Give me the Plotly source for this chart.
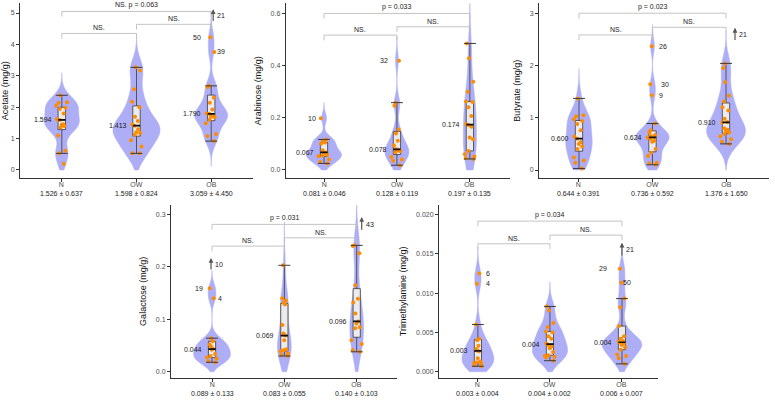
import numpy as np
import plotly.graph_objects as go

# ---------------- data (mg/g), values ----------------
groups = ["N", "OW", "OB"]

acetate_N = [2.38, 2.16, 2.14, 2.05, 1.98, 1.94, 1.80, 1.62, 1.594, 1.46, 1.44, 1.40, 1.35, 1.10, 0.61, 0.53, 0.20]
acetate_OW = [3.27, 3.17, 2.57, 2.17, 2.00, 1.70, 1.56, 1.45, 1.413, 1.30, 1.20, 1.18, 1.12, 0.95, 0.75, 0.53, 0.53]
acetate_OB = [4.23, 3.76, 2.68, 2.64, 2.30, 2.14, 1.93, 1.80, 1.79, 1.75, 1.70, 1.68, 1.60, 1.49, 1.15, 1.08, 0.92]
acetate_stats = ["1.526 ± 0.637", "1.598 ± 0.824", "3.059 ± 4.450"]
acetate_medlab = ["1.594", "1.413", "1.790"]
acetate_sig = ["NS.", "NS.", "NS. p = 0.063"]

arabinose_N = [0.198, 0.117, 0.112, 0.105, 0.100, 0.075, 0.067, 0.067, 0.058, 0.055, 0.052, 0.040, 0.030, 0.025]
arabinose_OW = [0.419, 0.258, 0.246, 0.155, 0.140, 0.112, 0.095, 0.080, 0.077, 0.075, 0.072, 0.068, 0.050, 0.040, 0.035, 0.018]
arabinose_OB = [0.485, 0.428, 0.338, 0.300, 0.262, 0.260, 0.240, 0.207, 0.176, 0.172, 0.166, 0.124, 0.118, 0.073, 0.060, 0.051, 0.045, 0.042]
arabinose_stats = ["0.081 ± 0.046", "0.128 ± 0.119", "0.197 ± 0.135"]
arabinose_medlab = ["0.067", "0.078", "0.174"]
arabinose_sig = ["NS.", "NS.", "p = 0.033"]

butyrate_N = [1.37, 1.05, 1.03, 0.97, 0.94, 0.88, 0.76, 0.64, 0.60, 0.53, 0.50, 0.45, 0.40, 0.24, 0.18, 0.14, 0.03]
butyrate_OW = [2.37, 1.64, 1.43, 0.89, 0.76, 0.72, 0.67, 0.65, 0.63, 0.624, 0.60, 0.56, 0.54, 0.40, 0.33, 0.27, 0.14, 0.13, 0.10]
butyrate_OB = [2.04, 1.95, 1.68, 1.42, 1.31, 1.20, 1.14, 0.98, 0.92, 0.91, 0.80, 0.77, 0.74, 0.72, 0.69, 0.64, 0.59, 0.54, 0.50]
butyrate_stats = ["0.644 ± 0.391", "0.736 ± 0.592", "1.376 ± 1.650"]
butyrate_medlab = ["0.600", "0.624", "0.910"]
butyrate_sig = ["NS.", "NS.", "p = 0.023"]

galactose_N = [0.159, 0.140, 0.064, 0.058, 0.052, 0.048, 0.044, 0.042, 0.034, 0.030, 0.027, 0.025, 0.020, 0.018]
galactose_OW = [0.203, 0.140, 0.136, 0.131, 0.128, 0.089, 0.073, 0.069, 0.060, 0.043, 0.041, 0.039, 0.035, 0.032, 0.030]
galactose_OB = [0.241, 0.240, 0.226, 0.165, 0.139, 0.132, 0.111, 0.096, 0.092, 0.085, 0.083, 0.060, 0.053, 0.041, 0.038]
galactose_stats = ["0.089 ± 0.133", "0.083 ± 0.055", "0.140 ± 0.103"]
galactose_medlab = ["0.044", "0.069", "0.096"]
galactose_sig = ["NS.", "NS.", "p = 0.031"]

tma_N = [0.0125, 0.0112, 0.0060, 0.0042, 0.0040, 0.0033, 0.0029, 0.0027, 0.0026, 0.0017, 0.0013, 0.0012, 0.0011, 0.0010, 0.0008, 0.0007]
tma_OW = [0.0083, 0.0078, 0.0062, 0.0057, 0.0051, 0.0050, 0.0045, 0.0042, 0.0036, 0.0034, 0.0032, 0.0030, 0.0025, 0.0021, 0.0020, 0.0019, 0.0018, 0.0014]
tma_OB = [0.0131, 0.0113, 0.0093, 0.0082, 0.0058, 0.0045, 0.0042, 0.0039, 0.0038, 0.0037, 0.0036, 0.0034, 0.0031, 0.0028, 0.0022, 0.0020, 0.0017, 0.0010]
tma_stats = ["0.003 ± 0.004", "0.004 ± 0.002", "0.006 ± 0.007"]
tma_medlab = ["0.003", "0.004", "0.004"]
tma_sig = ["NS.", "NS.", "p = 0.034"]

# labelled subject IDs: (group, value, id)
acetate_ids = [("OB", 4.23, "50"), ("OB", 3.76, "39")]
arabinose_ids = [("N", 0.198, "10"), ("OW", 0.419, "32")]
butyrate_ids = [("OW", 2.37, "26"), ("OW", 1.64, "30"), ("OW", 1.43, "9")]
galactose_ids = [("N", 0.159, "19"), ("N", 0.140, "4")]
tma_ids = [("N", 0.0125, "6"), ("N", 0.0112, "4"), ("OB", 0.0131, "29"), ("OB", 0.0113, "50")]

# off-scale subjects (group, id)
acetate_off = [("OB", "21")]
arabinose_off = []
butyrate_off = [("OB", "21")]
galactose_off = [("N", "10"), ("OB", "43")]
tma_off = [("OB", "21")]

# ---------------- layout / style ----------------
W, H = 775, 401
FONT = "Liberation Sans, Arial, sans-serif"
VIOLET = "rgb(174,174,246)"
ORANGE = "#FF8C00"
DARK = "#333333"
TXT = "#1A1A1A"
pairs = [(0, 1), (1, 2), (0, 2)]

panels = [
    dict(title="Acetate (mg/g)", data=[acetate_N, acetate_OW, acetate_OB], stats=acetate_stats,
         medlab=acetate_medlab, sig=acetate_sig, ids=acetate_ids, off=acetate_off,
         xpx=(20, 253), ypx=(3.3, 178), xr=[-0.56, 2.56], yr=[-0.255, 5.31],
         yt=[0, 1, 2, 3, 4, 5], fmt="{:.0f}", vw=[0.47, 0.63, 0.44],
         lv=[4.35, 4.64, 5.05], idx=[(-8, "right"), (4, "left")],
         arr=[(4.70, 5.12, 2)]),
    dict(title="Arabinose (mg/g)", data=[arabinose_N, arabinose_OW, arabinose_OB], stats=arabinose_stats,
         medlab=arabinose_medlab, sig=arabinose_sig, ids=arabinose_ids, off=arabinose_off,
         xpx=(285.7, 510), ypx=(3.3, 178), xr=[-0.525, 2.55], yr=[-0.031, 0.639],
         yt=[0, 0.2, 0.4, 0.6], fmt="{:.1f}", vw=[0.48, 0.33, 0.18],
         lv=[0.517, 0.549, 0.600], idx=[(-6, "right"), (-7, "right")], arr=[]),
    dict(title="Butyrate (mg/g)", data=[butyrate_N, butyrate_OW, butyrate_OB], stats=butyrate_stats,
         medlab=butyrate_medlab, sig=butyrate_sig, ids=butyrate_ids, off=butyrate_off,
         xpx=(539, 769), ypx=(3.3, 178), xr=[-0.544, 2.585], yr=[-0.153, 3.19],
         yt=[0, 1, 2, 3], fmt="{:.0f}", vw=[0.36, 0.45, 0.53],
         lv=[2.585, 2.73, 3.0], idx=[(5, "left"), (7, "left"), (5, "left")],
         arr=[(2.46, 2.72, 9)]),
    dict(title="Galactose (mg/g)", data=[galactose_N, galactose_OW, galactose_OB], stats=galactose_stats,
         medlab=galactose_medlab, sig=galactose_sig, ids=galactose_ids, off=galactose_off,
         xpx=(171, 397), ypx=(205, 377.7), xr=[-0.567, 2.557], yr=[-0.0114, 0.318],
         yt=[0, 0.1, 0.2, 0.3], fmt="{:.1f}", vw=[0.51, 0.19, 0.19],
         lv=[0.2396, 0.2554, 0.281], idx=[(-7, "right"), (4, "left")],
         arr=[(0.192, 0.217, -1), (0.268, 0.295, 5)]),
    dict(title="Trimethylamine (mg/g)", data=[tma_N, tma_OW, tma_OB], stats=tma_stats,
         medlab=tma_medlab, sig=tma_sig, ids=tma_ids, off=tma_off,
         xpx=(439, 657.7), ypx=(205, 377.7), xr=[-0.54, 2.496], yr=[-0.00076, 0.0212],
         yt=[0, 0.005, 0.01, 0.015, 0.02], fmt="{:.3f}", vw=[0.44, 0.49, 0.55],
         lv=[0.01627, 0.01737, 0.01915], idx=[(6, "left"), (6, "left"), (-13, "right"), (-1, "left")],
         arr=[(0.0146, 0.0164, 0)]),
]


def nrd0(v):
    v = np.asarray(v, float)
    q1, q3 = np.percentile(v, [25, 75])
    lo = min(np.std(v, ddof=1), (q3 - q1) / 1.34)
    return 0.9 * lo * len(v) ** -0.2


def whiskers(v):
    v = np.sort(np.asarray(v, float))
    q1, q3 = np.percentile(v, [25, 75], method="hazen")
    iqr = q3 - q1
    lo = v[v >= q1 - 1.5 * iqr].min()
    hi = v[v <= q3 + 1.5 * iqr].max()
    return lo, hi


def tfont(size=7, color=TXT):
    return dict(size=size, color=color, family=FONT)


fig = go.Figure()
annotations = []
layout = {}

for i, p in enumerate(panels, start=1):
    sx = "" if i == 1 else str(i)
    xa, ya = "x" + sx, "y" + sx
    yspan = p["yr"][1] - p["yr"][0]

    caps_x, caps_y, med_x, med_y = [], [], [], []
    for k, (g, vals) in enumerate(zip(groups, p["data"])):
        bw = nrd0(vals)
        fig.add_trace(go.Violin(
            x=[g] * len(vals), y=vals, xaxis=xa, yaxis=ya,
            fillcolor=VIOLET, line=dict(color=VIOLET, width=0.5), opacity=1,
            points=False, box_visible=False, meanline_visible=False,
            bandwidth=bw, spanmode="manual",
            span=[max(0.0, min(vals) - 3 * bw), max(vals) + 3 * bw],
            width=p["vw"][k], scalemode="width", hoverinfo="skip", showlegend=False))
        lo, hi = whiskers(vals)
        caps_x += [g, g]
        caps_y += [lo, hi]
        med_x.append(g)
        med_y.append(float(np.median(vals)))

    for g, vals in zip(groups, p["data"]):
        fig.add_trace(go.Box(
            x=[g] * len(vals), y=vals, xaxis=xa, yaxis=ya,
            boxpoints="outliers", marker=dict(color="rgba(0,0,0,0)", size=1),
            fillcolor="#EBEBEB", line=dict(color="#3A3A3A", width=0.8),
            width=0.1, whiskerwidth=0, hoverinfo="skip", showlegend=False))
    for g, vals in zip(groups, p["data"]):
        fig.add_trace(go.Box(
            x=[g] * len(vals), y=vals, xaxis=xa, yaxis=ya,
            boxpoints="all", jitter=0.9, pointpos=0, width=0.2,
            marker=dict(color=ORANGE, size=4),
            fillcolor="rgba(0,0,0,0)", line=dict(color="rgba(0,0,0,0)", width=0),
            hoverinfo="skip", showlegend=False))

    fig.add_trace(go.Scatter(
        x=caps_x, y=caps_y, xaxis=xa, yaxis=ya, mode="markers",
        marker=dict(symbol="line-ew", size=8.5, line=dict(color="#3A3A3A", width=1)),
        hoverinfo="skip", showlegend=False))
    fig.add_trace(go.Scatter(
        x=med_x, y=med_y, xaxis=xa, yaxis=ya, mode="markers",
        marker=dict(symbol="line-ew", size=5.2, line=dict(color="#111111", width=1.7)),
        hoverinfo="skip", showlegend=False))

    # significance brackets
    tip = 0.03 * yspan
    for (a, b), lvl, lab in zip(pairs, p["lv"], p["sig"]):
        fig.add_trace(go.Scatter(
            x=[groups[a], groups[a], groups[b], groups[b]],
            y=[lvl - tip, lvl, lvl, lvl - tip], xaxis=xa, yaxis=ya,
            mode="lines", line=dict(color="#BDBDBD", width=0.9),
            hoverinfo="skip", showlegend=False, cliponaxis=False))
        annotations.append(dict(x=(a + b) / 2, y=lvl, xref=xa, yref=ya, text=lab,
                                showarrow=False, yanchor="bottom", yshift=0,
                                font=tfont(7, "#222222")))

    # median labels
    for k, my in enumerate(med_y):
        annotations.append(dict(x=k, y=my, xref=xa, yref=ya, text=p["medlab"][k],
                                showarrow=False, xanchor="right", xshift=-8,
                                font=tfont()))

    # subject id labels
    for (g, v, t), (xs, anc) in zip(p["ids"], p["idx"]):
        annotations.append(dict(x=groups.index(g), y=v, xref=xa, yref=ya, text=t,
                                showarrow=False, xanchor=anc, xshift=xs,
                                font=tfont()))

    # arrows for off-scale subjects
    for (g, t), (tail, head, xs) in zip(p["off"], p["arr"]):
        k = groups.index(g)
        annotations.append(dict(x=k, y=head, ax=k, ay=tail, xref=xa, yref=ya,
                                axref=xa, ayref=ya, text="", showarrow=True,
                                arrowhead=2, arrowsize=0.8, arrowwidth=1.2,
                                arrowcolor="#555555", xshift=xs))
        annotations.append(dict(x=k, y=(tail + head) / 2, xref=xa, yref=ya, text=t,
                                showarrow=False, xanchor="left", xshift=xs + 2,
                                font=tfont()))

    # category labels with group summaries (mean ± sd)
    for k, (g, s) in enumerate(zip(groups, p["stats"])):
        annotations.append(dict(x=k, y=0, xref=xa, yref=ya + " domain",
                                text=f"<span style='color:#4D4D4D'>{g}</span><br>{s}",
                                showarrow=False, yanchor="top", yshift=-1,
                                font=tfont(7, TXT)))

    layout["xaxis" + sx] = dict(
        domain=[p["xpx"][0] / W, p["xpx"][1] / W], anchor=ya, type="category",
        categoryorder="array", categoryarray=groups, range=p["xr"],
        tickmode="array", tickvals=groups, showticklabels=False,
        showline=True, linecolor=DARK, linewidth=1, ticks="outside", ticklen=3,
        tickcolor=DARK, tickwidth=0.8, showgrid=False, zeroline=False, automargin=False)
    layout["yaxis" + sx] = dict(
        domain=[1 - p["ypx"][1] / H, 1 - p["ypx"][0] / H], anchor=xa, range=p["yr"],
        tickmode="array", tickvals=p["yt"], ticktext=[p["fmt"].format(t) for t in p["yt"]],
        tickfont=tfont(7, "#4D4D4D"),
        title=dict(text=p["title"], font=tfont(9, "#111111"), standoff=7),
        showline=True, linecolor=DARK, linewidth=1, ticks="outside", ticklen=3,
        tickcolor=DARK, tickwidth=0.8, showgrid=False, zeroline=False, automargin=False)

fig.update_layout(
    width=W, height=H, margin=dict(l=0, r=0, t=0, b=0),
    paper_bgcolor="white", plot_bgcolor="white",
    boxmode="overlay", violinmode="overlay", showlegend=False,
    font=dict(family=FONT), annotations=annotations, **layout)

fig.write_html("out.html", config={"displayModeBar": False},
               post_script="document.body.style.margin='0';")
